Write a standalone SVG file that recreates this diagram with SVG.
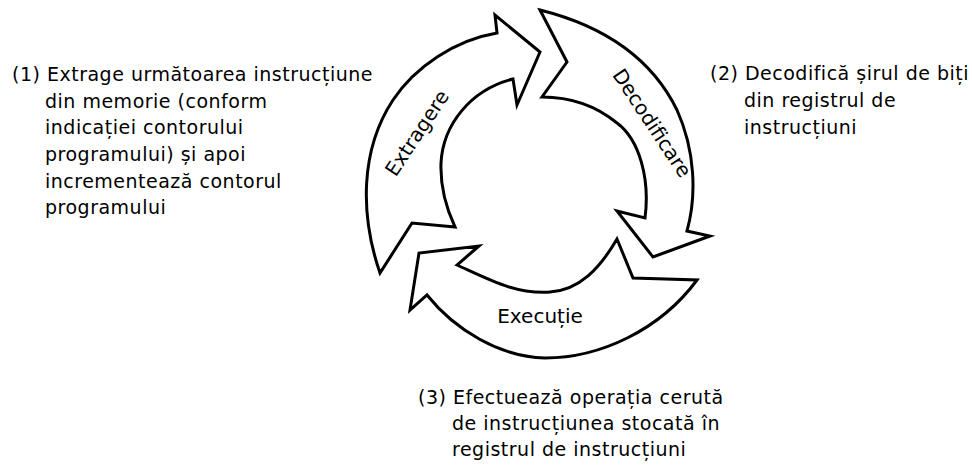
<svg xmlns="http://www.w3.org/2000/svg" width="972" height="471" viewBox="0 0 972 471">
<style>
.arrow{fill:#fff;stroke:#000;stroke-width:3;stroke-linejoin:miter}
text{font-family:"DejaVu Sans","Open Sans",sans-serif;fill:#000}
.t{font-size:19px;letter-spacing:0.5px}
.lbl{font-size:20px}
</style>
<rect width="972" height="471" fill="#fff"/>
<g id="extragere">
<path class="arrow" d="M380,273 C360,215 360,150 393,100 C415,67 455,40 497,33 L495,15 L540,52 L517,105 L513,79 C470,90 443,125 441,163 C440,190 447,210 455,227 L412,223 Z"/>
<text class="lbl" transform="translate(417,133) rotate(-56.5)" text-anchor="middle" dy="7">Extragere</text>
</g>
<g id="decodificare">
<path class="arrow" d="M540,10 C600,25 650,55 677,110 C695,150 697,195 687,231 L710,236 L653,257 L617,211 L645,218 C650,180 640,140 617,123 C595,105 570,97 542,97 L567,62 Z"/>
<text class="lbl" transform="translate(652,123) rotate(56.5)" text-anchor="middle" dy="7">Decodificare</text>
</g>
<g id="executie">
<path class="arrow" d="M617,239 C600,268 580,290 550,292 C515,294 490,280 457,265 L479,246 L419,253 L410,310 L427,295 C455,330 500,357 545,358 C600,358 660,330 697,280 L633,278 Z"/>
<text class="lbl" x="540" y="323" text-anchor="middle">Execuție</text>
</g>
<g id="connectors"></g>
<g id="desc1">
<text class="t" x="12" y="81">(1) Extrage următoarea instrucțiune</text>
<text class="t" x="45" y="108">din memorie (conform</text>
<text class="t" x="45" y="134">indicației contorului</text>
<text class="t" x="45" y="161">programului) și apoi</text>
<text class="t" x="45" y="188">incrementează contorul</text>
<text class="t" x="45" y="214">programului</text>
</g>
<g id="desc2">
<text class="t" x="710" y="80">(2) Decodifică șirul de biți</text>
<text class="t" x="744" y="107">din registrul de</text>
<text class="t" x="744" y="134">instrucțiuni</text>
</g>
<g id="desc3">
<text class="t" x="418" y="404">(3) Efectuează operația cerută</text>
<text class="t" x="452" y="430">de instrucțiunea stocată în</text>
<text class="t" x="452" y="456">registrul de instrucțiuni</text>
</g>
</svg>
